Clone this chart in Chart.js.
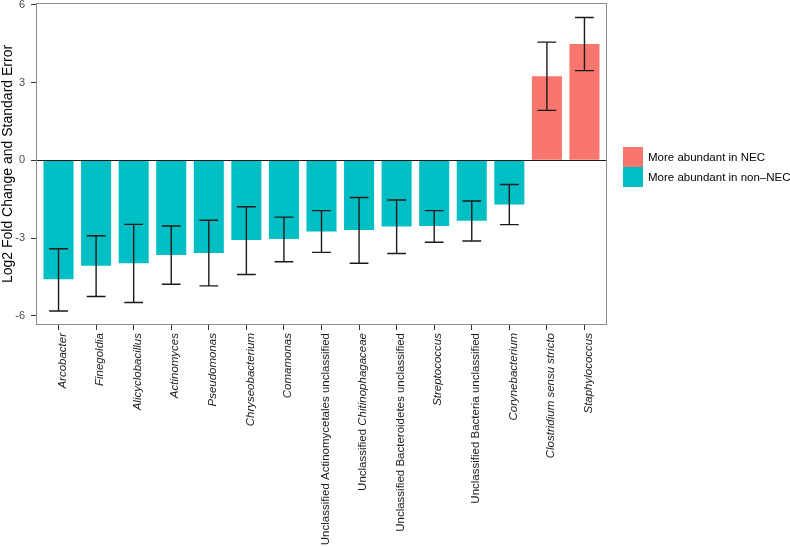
<!DOCTYPE html>
<html><head><meta charset="utf-8">
<script src="https://cdn.jsdelivr.net/npm/chart.js@4"></script>
<style>html,body{margin:0;padding:0;background:#fff;}#wrap{width:790px;height:547px;}</style>
</head><body><div id="wrap"><canvas id="c" width="790" height="547"></canvas></div>
<script>
const categories = ['Arcobacter','Finegoldia','Alicyclobacillus','Actinomyces','Pseudomonas','Chryseobacterium','Comamonas','Unclassified Actinomycetales unclassified','Unclassified Chitinophagaceae','Unclassified Bacteroidetes unclassified','Streptococcus','Unclassified Bacteria unclassified','Corynebacterium','Clostridium sensu stricto','Staphylococcus'];
const italicWords = ['Arcobacter','Finegoldia','Alicyclobacillus','Actinomyces','Pseudomonas','Chryseobacterium','Comamonas','Chitinophagaceae','Streptococcus','Corynebacterium','Clostridium','sensu','stricto','Staphylococcus'];
const log2FC = [-4.59,-4.06,-3.97,-3.65,-3.57,-3.07,-3.03,-2.74,-2.69,-2.55,-2.53,-2.33,-1.70,3.24,4.49];
const errLower = [-5.81,-5.25,-5.48,-4.78,-4.84,-4.40,-3.91,-3.55,-3.97,-3.59,-3.16,-3.11,-2.48,1.93,3.46];
const errUpper = [-3.41,-2.91,-2.47,-2.53,-2.31,-1.79,-2.19,-1.94,-1.43,-1.53,-1.94,-1.57,-0.93,4.56,5.51];
const yTicks = [-6,-3,0,3,6];
const legendLabels = ['More abundant in NEC','More abundant in non\u2013NEC'];
const yTitle = 'Log2 Fold Change and Standard Error';

const COL_POS = '#F8766D', COL_NEG = '#00BFC4';
const FONT = '"Liberation Sans", Arial, sans-serif';

const overlay = {
  id:'overlay',
  afterDatasetsDraw(chart){
    const {ctx, chartArea:a, scales:{x,y}} = chart;
    ctx.save();
    const y0 = Math.round(y.getPixelForValue(0))+0.5;
    ctx.strokeStyle='#1a1a1a'; ctx.lineWidth=1.2;
    ctx.beginPath(); ctx.moveTo(a.left,y0); ctx.lineTo(a.right,y0); ctx.stroke();
    const band = x.getPixelForValue(1)-x.getPixelForValue(0);
    const hw = band*0.25;
    ctx.lineWidth=1.4; ctx.strokeStyle='#1a1a1a';
    for(let i=0;i<log2FC.length;i++){
      const cx = x.getPixelForValue(i);
      const yl = y.getPixelForValue(errLower[i]);
      const yu = y.getPixelForValue(errUpper[i]);
      ctx.beginPath();
      ctx.moveTo(cx,yl); ctx.lineTo(cx,yu);
      ctx.moveTo(cx-hw,yl); ctx.lineTo(cx+hw,yl);
      ctx.moveTo(cx-hw,yu); ctx.lineTo(cx+hw,yu);
      ctx.stroke();
    }
    ctx.restore();
  },
  afterDraw(chart){
    const {ctx, chartArea:a, scales:{x,y}} = chart;
    ctx.save();
    ctx.strokeStyle='#8c8c8c'; ctx.lineWidth=1;
    ctx.strokeRect(a.left+0.5,a.top+0.5,a.right-a.left-1,a.bottom-a.top-1);
    const fs = 11.5;
    for(let i=0;i<categories.length;i++){
      const cx = x.getPixelForValue(i)+4;
      ctx.save();
      ctx.translate(cx, a.bottom+8);
      ctx.rotate(-Math.PI/2);
      ctx.textBaseline='middle'; ctx.textAlign='left'; ctx.fillStyle='#1a1a1a';
      const words = categories[i].split(' ');
      const fonts = words.map(w=> (italicWords.includes(w)?'italic ':'')+fs+'px '+FONT);
      ctx.font = fs+'px '+FONT;
      const sp = ctx.measureText(' ').width;
      let total = 0; const widths=[];
      words.forEach((w,k)=>{ctx.font=fonts[k]; const wd=ctx.measureText(w).width; widths.push(wd); total+=wd;});
      total += sp*(words.length-1);
      let pos = -total;
      words.forEach((w,k)=>{ctx.font=fonts[k]; ctx.fillText(w,pos,0); pos+=widths[k]+sp;});
      ctx.restore();
    }
    ctx.save();
    ctx.translate(8.5,(a.top+a.bottom)/2);
    ctx.rotate(-Math.PI/2);
    ctx.font='14px '+FONT; ctx.fillStyle='#000'; ctx.textAlign='center'; ctx.textBaseline='middle';
    ctx.fillText(yTitle,0,0);
    ctx.restore();
    const lx = 623, ly = 147, ks = 20;
    [COL_POS,COL_NEG].forEach((c,k)=>{
      ctx.fillStyle=c; ctx.fillRect(lx,ly+k*ks,ks,ks);
      ctx.fillStyle='#000'; ctx.font='11.5px '+FONT; ctx.textAlign='left'; ctx.textBaseline='middle';
      ctx.fillText(legendLabels[k], lx+ks+5, ly+k*ks+ks/2+0.5);
    });
    ctx.restore();
  }
};

new Chart(document.getElementById('c'), {
  type:'bar',
  data:{datasets:[{
    data: log2FC.map((v,i)=>({x:i,y:v})),
    backgroundColor: log2FC.map(v=> v>0?COL_POS:COL_NEG),
    borderWidth:0, categoryPercentage:1, barPercentage:0.8
  }]},
  options:{
    animation:false, responsive:false, devicePixelRatio:1,
    layout:{padding:{top:3,right:183,left:0,bottom:0}},
    plugins:{legend:{display:false}, tooltip:{enabled:false}},
    scales:{
      x:{type:'linear', min:-0.6, max:14.6, offset:false,
        afterBuildTicks: s=>{s.ticks = categories.map((c,i)=>({value:i}));},
        ticks:{callback:()=>'', autoSkip:false, maxRotation:0, minRotation:0},
        grid:{offset:false, drawOnChartArea:false, drawTicks:true, tickLength:5, color:'#333', tickWidth:1},
        border:{display:false},
        afterFit: s=>{s.height = 222; s.paddingLeft=0; s.paddingRight=0;}
      },
      y:{min:-6.35, max:6.07,
        afterBuildTicks: s=>{s.ticks = yTicks.map(v=>({value:v}));},
        ticks:{font:{family:FONT,size:11}, color:'#4d4d4d', padding:6},
        grid:{drawOnChartArea:false, tickLength:5, color:'#333', tickWidth:1},
        border:{display:false},
        afterFit: s=>{s.width = 36; s.paddingTop=0; s.paddingBottom=0;}
      }
    }
  },
  plugins:[overlay]
});
</script></body></html>
